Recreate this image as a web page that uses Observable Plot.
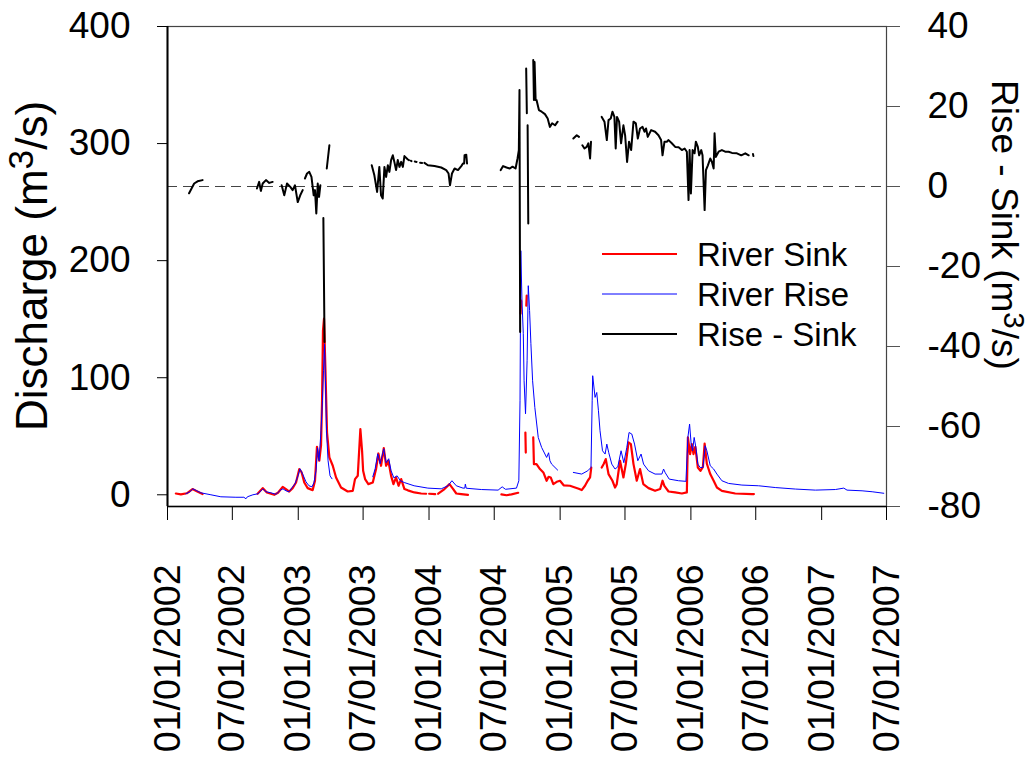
<!DOCTYPE html>
<html>
<head>
<meta charset="utf-8">
<script src="https://cdn.jsdelivr.net/npm/d3@7"></script>
<script src="https://cdn.jsdelivr.net/npm/@observablehq/plot@0.6"></script>
<style>
  body { margin: 0; background: #fff; }
  svg { display: block; }
</style>
</head>
<body>
<div id="chart"></div>
<script>
// Daily discharge records, sampled at decimal-year times; null marks a break in the record.

// River Sink discharge (m3/s)
const sinkYear = [
  2002.064, 2002.102, 2002.148, 2002.191, 2002.224, 2002.268, null,
  2002.689, 2002.728, 2002.760, 2002.816, 2002.845, 2002.881, 2002.906, 2002.931, 2002.957, 2002.983,
  2003.008, 2003.026, 2003.046, 2003.072, 2003.110, 2003.128, 2003.143, 2003.161, 2003.174, 2003.182,
  2003.189, 2003.197, 2003.208, 2003.220, 2003.238, 2003.264, 2003.289, 2003.327, 2003.378, 2003.417,
  2003.434, 2003.455, 2003.475, 2003.488, 2003.496, 2003.511, 2003.536, 2003.570, 2003.595, 2003.613,
  2003.633, 2003.654, 2003.672, 2003.689, 2003.710, 2003.728, 2003.748, 2003.767, 2003.787, 2003.812,
  2003.838, 2003.888, 2003.940, 2003.978, null, 2004.001, 2004.047, null,
  2004.070, 2004.118, 2004.156, 2004.183, 2004.208, 2004.246, 2004.297, null,
  2004.552, 2004.591, 2004.629, 2004.680, null,
  2004.698, 2004.703, null,
  2004.735, 2004.738, null,
  2004.742, 2004.745, null,
  2004.795, 2004.800, 2004.820, 2004.846, 2004.872, 2004.897, 2004.912, 2004.928, 2004.948, 2004.974,
  2004.999, 2005.027, 2005.075, 2005.114, 2005.142, 2005.165, 2005.190, 2005.211, 2005.229, 2005.238, null,
  2005.318, 2005.334, 2005.349, 2005.370, 2005.400, 2005.420, 2005.433, 2005.458, 2005.484, 2005.502,
  2005.523, 2005.541, 2005.561, 2005.586, 2005.611, 2005.636, 2005.676, 2005.726, 2005.765, 2005.783,
  2005.797, 2005.829, 2005.880, 2005.931, 2005.969, 2005.977, 2005.994, 2006.007, 2006.020, 2006.034,
  2006.053, 2006.073, 2006.092, 2006.105, 2006.122, 2006.148, 2006.174, 2006.199, 2006.237, 2006.339,
  2006.467, 2006.482
];
const sinkFlow = [
  1.1, 0.4, 1.3, 4.9, 3.0, 0.6, null,
  0.9, 5.7, 2.0, 0.0, 1.7, 6.8, 4.9, 2.8, 5.7, 10.5,
  22.0, 19.1, 10.5, 5.7, 4.0, 12.0, 41.0, 29.1, 41.9, 80.3,
  140.2, 150.4, 106.0, 53.2, 31.9, 24.8, 14.8, 6.2, 2.8, 3.4,
  13.4, 16.2, 56.2, 37.6, 20.5, 13.4, 9.1, 10.5, 22.0, 35.3,
  24.8, 39.9, 24.8, 29.1, 16.2, 9.1, 14.8, 7.7, 13.4, 4.9,
  3.8, 2.0, 1.1, 0.9, null, 0.9, 0.6, null,
  0.9, 4.9, 9.1, 5.1, 1.1, 0.6, 0.0, null,
  0.4, -0.4, 0.4, 1.7, null,
  154.7, 165.8, null,
  53.2, 36.1, null,
  161.5, 170.1, null,
  49.0, 26.2, 26.2, 22.0, 19.1, 12.0, 15.4, 14.8, 9.1, 11.1,
  12.0, 8.1, 7.7, 6.2, 5.1, 4.0, 7.7, 12.0, 14.8, 23.3, null,
  23.3, 26.5, 30.5, 17.7, 12.0, 6.2, 9.1, 29.1, 14.8, 26.2,
  44.7, 43.3, 26.2, 12.0, 22.0, 9.1, 5.7, 3.4, 4.9, 12.0,
  7.7, 2.8, 2.0, 1.1, 2.0, 49.0, 34.8, 43.3, 34.8, 41.0,
  23.3, 20.5, 23.9, 43.8, 26.5, 17.7, 12.0, 6.2, 3.4, 1.1,
  0.6, 0.6
];

// River Rise discharge (m3/s)
const riseYear = [
  2002.140, 2002.171, 2002.194, 2002.224, 2002.255, 2002.332, 2002.408, 2002.523, 2002.584, 2002.600,
  2002.611, 2002.653, 2002.692, 2002.730, 2002.753, 2002.791, 2002.829, 2002.868, 2002.883, 2002.906,
  2002.929, 2002.952, 2002.975, 2002.998, 2003.013, 2003.036, 2003.059, 2003.082, 2003.105, 2003.120,
  2003.136, 2003.147, 2003.159, 2003.174, 2003.185, 2003.193, 2003.201, 2003.208, 2003.216, 2003.228,
  2003.243, 2003.258, null,
  2003.570, 2003.588, 2003.608, 2003.626, 2003.654, 2003.672, 2003.692, 2003.710, 2003.731, 2003.756,
  2003.781, 2003.810, 2003.886, 2003.991, 2004.093, 2004.144, 2004.175, 2004.208, 2004.259, 2004.273,
  2004.277, 2004.284, 2004.399, 2004.527, 2004.558, 2004.583, 2004.667, 2004.685, 2004.694, 2004.700,
  2004.709, 2004.719, 2004.725, 2004.736, 2004.748, 2004.757, 2004.767, 2004.777, 2004.790, 2004.807,
  2004.833, 2004.859, 2004.897, 2004.912, 2004.922, 2004.935, 2004.981, null,
  2005.101, 2005.165, 2005.211, 2005.236, 2005.245, 2005.249, 2005.267, 2005.280, 2005.293, 2005.305,
  2005.324, 2005.344, 2005.357, 2005.372, 2005.395, 2005.420, 2005.441, 2005.466, 2005.487, 2005.510,
  2005.527, 2005.548, 2005.569, 2005.594, 2005.619, 2005.638, 2005.676, 2005.726, 2005.778, 2005.791,
  2005.804, 2005.834, 2005.906, 2005.962, 2005.977, 2005.990, 2006.002, 2006.013, 2006.025, 2006.038,
  2006.053, 2006.071, 2006.092, 2006.109, 2006.122, 2006.148, 2006.174, 2006.199, 2006.237, 2006.288,
  2006.390, 2006.518, 2006.645, 2006.799, 2006.952, 2007.105, 2007.169, 2007.194, 2007.309, 2007.386,
  2007.475
];
const riseFlow = [
  0.9, 2.6, 5.1, 3.4, 1.7, 0.0, -1.7, -2.1, -2.1, -3.4,
  -1.7, 0.0, 0.9, 5.1, 2.6, 1.7, 0.4, 4.3, 5.1, 3.4,
  2.6, 6.0, 9.4, 16.2, 22.2, 17.1, 11.1, 7.7, 6.8, 10.3,
  20.5, 40.2, 29.1, 54.7, 80.3, 106.0, 129.0, 97.4, 54.7, 29.1,
  16.2, 13.7, null,
  15.4, 22.2, 35.0, 26.5, 39.3, 27.4, 30.8, 20.5, 14.5, 16.2,
  12.0, 10.5, 7.7, 5.7, 5.1, 7.7, 12.0, 7.7, 5.7, 5.7,
  9.1, 5.6, 4.5, 4.0, 6.8, 4.7, 5.7, 12.0, 80.3, 208.5,
  165.8, 137.6, 97.4, 69.2, 114.5, 178.6, 157.3, 129.1, 97.4, 74.6,
  49.0, 40.4, 31.9, 35.9, 29.1, 26.2, 21.1, null,
  19.1, 17.7, 20.5, 23.3, 80.3, 101.7, 83.2, 87.4, 71.8, 54.7,
  37.6, 34.8, 43.3, 35.9, 26.2, 22.0, 23.9, 37.6, 27.4, 40.4,
  53.2, 51.9, 43.3, 29.1, 34.8, 26.2, 20.5, 17.7, 17.7, 22.0,
  18.8, 13.4, 12.0, 11.5, 49.0, 60.4, 43.3, 37.6, 49.0, 40.4,
  26.2, 23.3, 23.3, 41.9, 37.6, 24.8, 22.0, 17.7, 12.0, 9.7,
  8.3, 7.7, 6.2, 4.9, 4.0, 4.5, 5.7, 4.0, 3.4, 2.6,
  1.3
];

// Rise minus Sink (m3/s), read against the right-hand axis
const diffYear = [
  2002.165, 2002.184, 2002.204, 2002.230, 2002.268, null,
  2002.684, 2002.701, 2002.714, 2002.728, 2002.753, 2002.778, 2002.804, null,
  2002.873, 2002.893, 2002.914, 2002.939, 2002.957, 2002.975, 2002.996, 2003.015, 2003.034, null,
  2003.051, 2003.067, 2003.084, 2003.101, 2003.118, 2003.128, 2003.138, 2003.149, 2003.159, 2003.169, null,
  2003.192, 2003.201, null,
  2003.218, 2003.238, null,
  2003.562, 2003.582, 2003.603, 2003.620, 2003.633, 2003.646, 2003.659, 2003.672, 2003.685, 2003.697,
  2003.710, 2003.723, 2003.735, 2003.748, 2003.761, 2003.774, 2003.787, 2003.800, 2003.812, 2003.838,
  2003.846, null, 2003.860, 2003.866, null, 2003.891, 2003.905, null, 2003.932, 2003.947, null,
  2003.965, 2003.991, 2004.042, 2004.093, 2004.131, 2004.149, 2004.160, 2004.175, 2004.195, 2004.221,
  2004.246, 2004.259, null,
  2004.268, 2004.271, 2004.284, 2004.290, null,
  2004.547, 2004.565, 2004.591, 2004.616, 2004.637, 2004.660, 2004.675, 2004.685, 2004.690, 2004.695, null,
  2004.741, 2004.746, null,
  2004.752, 2004.757, null,
  2004.795, 2004.800, 2004.805, 2004.813, 2004.820, 2004.838, 2004.859, 2004.884, 2004.905, 2004.922,
  2004.939, 2004.961, 2004.981, null,
  2005.101, 2005.127, 2005.144, null,
  2005.170, 2005.186, 2005.203, 2005.216, 2005.229, 2005.236, null,
  2005.318, 2005.339, 2005.357, 2005.370, 2005.387, 2005.400, 2005.415, 2005.425, 2005.435, 2005.451,
  2005.466, 2005.484, 2005.497, 2005.512, 2005.527, 2005.543, 2005.561, 2005.579, 2005.594, 2005.611,
  2005.630, 2005.645, 2005.657, 2005.670, 2005.696, 2005.726, 2005.752, 2005.772, 2005.783, 2005.798,
  2005.816, 2005.829, 2005.854, 2005.880, 2005.906, 2005.931, 2005.952, 2005.969, 2005.982, 2005.990,
  2006.000, 2006.013, 2006.028, 2006.038, 2006.053, 2006.063, 2006.079, 2006.089, 2006.105, 2006.115,
  2006.130, 2006.148, 2006.161, 2006.174, 2006.181, 2006.191, 2006.212, 2006.237, 2006.262, 2006.288,
  2006.314, 2006.352, 2006.385, 2006.416, 2006.442, null,
  2006.475, 2006.478
];
const diffFlow = [
  -1.7, -0.5, 0.75, 1.3, 1.6, null,
  -0.5, 1.15, -1.1, 0.75, 1.6, 0.9, 1.15, null,
  0.3, -2.2, 0.75, -0.1, -0.9, 0.3, -3.9, -2.2, -0.9, null,
  2.0, 3.25, 3.65, 2.4, -2.2, -0.9, -6.75, 0.75, -2.6, 0.3, null,
  -7.9, -38.9, null,
  4.5, 10.3, null,
  5.3, 2.8, -1.35, 4.9, -2.2, -3.0, 4.9, 2.4, 5.3, 3.65,
  6.6, 7.8, 6.15, 4.1, 6.6, 4.9, 6.15, 4.9, 7.6, 6.75,
  6.6, null, 6.45, 6.35, null, 6.25, 6.15, null, 5.95, 5.9, null,
  5.9, 5.3, 5.1, 4.75, 4.1, 3.25, 0.3, 3.25, 4.5, 4.1,
  5.1, 5.75, null,
  5.75, 7.8, 7.95, 5.75, null,
  4.1, 5.1, 4.75, 4.5, 4.95, 4.5, 7.0, 9.1, 24.1, -36.4, null,
  29.5, 18.3, null,
  15.3, -9.25, null,
  31.6, 21.6, 31.1, 21.6, 21.6, 19.1, 18.7, 18.1, 17.0, 14.9,
  15.8, 15.3, 16.2, null,
  12.0, 12.8, 12.4, null,
  10.3, 9.5, 9.9, 10.8, 7.0, 11.2, null,
  17.4, 16.2, 11.6, 16.6, 17.0, 18.7, 17.4, 9.5, 17.4, 16.2,
  10.8, 15.3, 12.8, 6.15, 11.2, 9.1, 16.2, 15.8, 12.0, 14.5,
  14.9, 13.7, 14.5, 12.4, 14.1, 13.7, 12.8, 11.6, 7.8, 11.2,
  11.2, 11.6, 10.8, 9.9, 9.8, 9.1, 9.5, 8.7, -3.4, 9.1,
  -1.75, 9.1, 8.3, 11.2, 9.9, 7.8, 9.1, 7.8, -5.9, 4.1,
  5.3, 7.0, 6.15, 4.5, 13.3, 7.4, 8.7, 9.1, 8.7, 8.7,
  8.4, 8.3, 7.8, 8.3, 7.8, null,
  8.1, 7.6
];

// Axis ticks
const xTicks = [
  "2002-01-01", "2002-07-01", "2003-01-01", "2003-07-01", "2004-01-01", "2004-07-01",
  "2005-01-01", "2005-07-01", "2006-01-01", "2006-07-01", "2007-01-01", "2007-07-01"
];
const leftTicks = [0, 100, 200, 300, 400];
const rightTicks = [-80, -60, -40, -20, 0, 20, 40];

// Scale domains for the two vertical axes
const leftDomain = [-10, 400];
const rightDomain = [-80, 40];

const FONT = "'Liberation Sans', Arial, Helvetica, sans-serif";

// Decimal year -> UTC Date
function yearToDate(t) {
  const y = Math.floor(t);
  const s = Date.UTC(y, 0, 1), e = Date.UTC(y + 1, 0, 1);
  return new Date(s + (t - y) * (e - s));
}

// Map a right-axis value onto the left (discharge) scale, and back
const toLeft = (d) =>
  leftDomain[0] + (d - rightDomain[0]) / (rightDomain[1] - rightDomain[0]) * (leftDomain[1] - leftDomain[0]);
const fromLeft = (v) =>
  rightDomain[0] + (v - leftDomain[0]) / (leftDomain[1] - leftDomain[0]) * (rightDomain[1] - rightDomain[0]);

function series(years, values, f = (v) => v) {
  return years.map((t, i) => ({
    date: t == null ? null : yearToDate(t),
    value: values[i] == null ? NaN : f(values[i])
  }));
}

const sink = series(sinkYear, sinkFlow);
const rise = series(riseYear, riseFlow);
const diff = series(diffYear, diffFlow, toLeft);

const xDates = xTicks.map((s) => new Date(s + "T00:00:00Z"));

const chart = Plot.plot({
  width: 1034,
  height: 766,
  marginLeft: 167,
  marginRight: 148,
  marginTop: 26,
  marginBottom: 260,
  x: { type: "utc", domain: [xDates[0], xDates[xDates.length - 1]] },
  y: { domain: leftDomain },
  style: { fontFamily: FONT, fontSize: "36px", background: "#fff", color: "#000" },
  marks: [
    Plot.ruleY([toLeft(0)], { stroke: "#444", strokeWidth: 1.2, strokeDasharray: "10,6" }),
    Plot.line(sink, { x: "date", y: "value", stroke: "#ff0000", strokeWidth: 2.2 }),
    Plot.line(rise, { x: "date", y: "value", stroke: "#0000ff", strokeWidth: 1 }),
    Plot.line(diff, { x: "date", y: "value", stroke: "#000", strokeWidth: 2 }),
    Plot.frame({ stroke: "#444", strokeWidth: 1.2 }),
    Plot.ruleX([xDates[0]], { stroke: "#000", strokeWidth: 2 }),
    Plot.ruleY([leftDomain[0]], { stroke: "#000", strokeWidth: 1.5 }),
    Plot.axisY(leftTicks, {
      anchor: "left", tickSize: 10, tickPadding: 27, label: null, fontSize: 37,
      tickFormat: (d) => String(d)
    }),
    Plot.axisY(rightTicks.map(toLeft), {
      anchor: "right", tickSize: 13, tickPadding: 28, label: null, fontSize: 37,
      stroke: "#555",
      tickFormat: (v) => String(Math.round(fromLeft(v)) || 0)
    }),
    Plot.axisX(xDates, {
      anchor: "bottom", tickSize: 14, tickPadding: 44, tickRotate: -90, label: null, fontSize: 37.5,
      tickFormat: d3.utcFormat("%m/%d/%Y")
    })
  ]
});

const svg = d3.select(chart);

// Axis titles with a raised exponent
function title(x, y, angle, size, before, sup, after) {
  const t = svg.append("text")
    .attr("transform", `translate(${x},${y}) rotate(${angle})`)
    .attr("text-anchor", "middle")
    .attr("font-family", FONT)
    .attr("font-size", size)
    .attr("fill", "#000");
  t.append("tspan").text(before);
  t.append("tspan").attr("font-size", size * 0.8).attr("baseline-shift", "40%").text(sup);
  t.append("tspan").text(after);
}
title(47, 266, -90, 44, "Discharge (m", "3", "/s)");
title(992, 225, 90, 37, "Rise - Sink (m", "3", "/s)");

// Legend
const legendItems = [
  { label: "River Sink", color: "#ff0000", width: 2 },
  { label: "River Rise", color: "#0000ff", width: 1 },
  { label: "Rise - Sink", color: "#000", width: 2 }
];
const legend = svg.append("g")
  .attr("font-family", FONT)
  .attr("font-size", 33)
  .attr("text-anchor", "start");
legendItems.forEach((d, i) => {
  const y = 254 + i * 40;
  legend.append("line")
    .attr("x1", 602).attr("x2", 677).attr("y1", y).attr("y2", y)
    .attr("stroke", d.color).attr("stroke-width", d.width);
  legend.append("text")
    .attr("x", 697).attr("y", y).attr("dy", "0.36em")
    .attr("fill", "#000").text(d.label);
});

document.getElementById("chart").append(chart);
</script>
</body>
</html>
